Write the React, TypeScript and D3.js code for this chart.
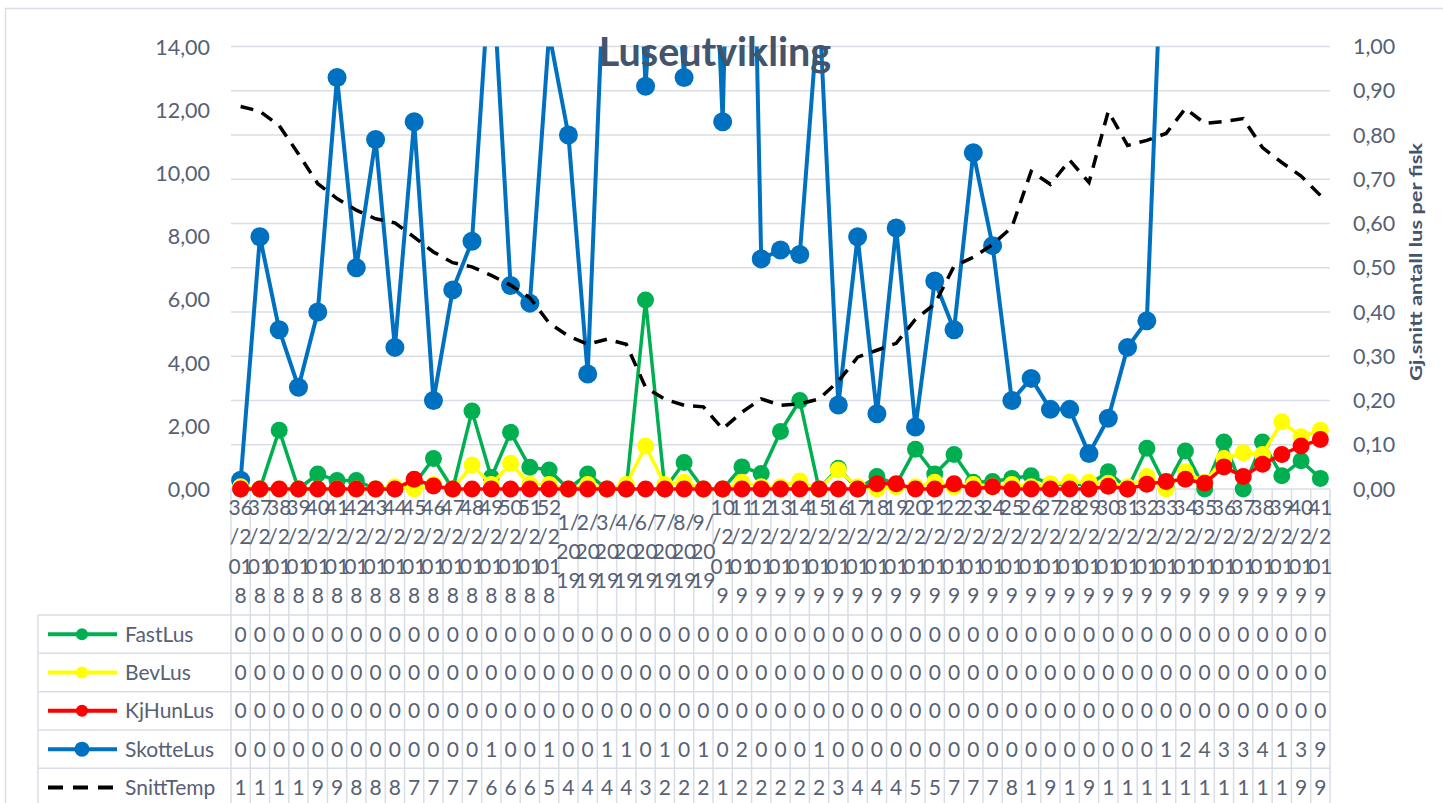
import React from 'react';
import * as d3 from 'd3';

const categories = [
  '36/2018', '37/2018', '38/2018', '39/2018', '40/2018', '41/2018', '42/2018', '43/2018', '44/2018',
  '45/2018', '46/2018', '47/2018', '48/2018', '49/2018', '50/2018', '51/2018', '52/2018',
  '1/2019', '2/2019', '3/2019', '4/2019', '6/2019', '7/2019', '8/2019', '9/2019',
  '10/2019', '11/2019', '12/2019', '13/2019', '14/2019', '15/2019', '16/2019', '17/2019', '18/2019',
  '19/2019', '20/2019', '21/2019', '22/2019', '23/2019', '24/2019', '25/2019', '26/2019', '27/2019',
  '28/2019', '29/2019', '30/2019', '31/2019', '32/2019', '33/2019', '34/2019', '35/2019', '36/2019',
  '37/2019', '38/2019', '39/2019', '40/2019', '41/2019',
];

const fastLus = [
  0, 0, 0.133, 0, 0.034, 0.019, 0.019, 0, 0, 0.01, 0.069, 0, 0.176, 0.026, 0.128, 0.049, 0.043,
  0, 0.034, 0, 0, 0.427, 0, 0.06, 0,
  0, 0.05, 0.035, 0.13, 0.2, 0, 0.047, 0, 0.028, 0.01, 0.09, 0.034, 0.078, 0.015, 0.017, 0.024,
  0.03, 0.01, 0.01, 0.01, 0.039, 0, 0.092, 0.005, 0.086, 0, 0.106, 0, 0.106, 0.03, 0.064, 0.024,
];

const bevLus = [
  0.005, 0, 0, 0, 0, 0, 0, 0, 0.005, 0, 0.01, 0, 0.054, 0.01, 0.058, 0.01, 0.01,
  0, 0.01, 0, 0.01, 0.097, 0.01, 0.015, 0,
  0, 0.015, 0.005, 0.005, 0.018, 0, 0.043, 0.005, 0, 0.005, 0.005, 0.015, 0.005, 0.01, 0.005, 0.01,
  0.005, 0.012, 0.015, 0.015, 0.013, 0.005, 0.028, 0, 0.039, 0.015, 0.069, 0.082, 0.078, 0.152, 0.118, 0.133,
];

const kjHunLus = [
  0, 0, 0, 0, 0, 0, 0, 0, 0, 0.022, 0.007, 0, 0, 0, 0, 0, 0,
  0, 0, 0, 0, 0, 0, 0, 0,
  0, 0, 0, 0, 0, 0, 0, 0, 0.012, 0.012, 0, 0, 0.012, 0, 0.005, 0,
  0, 0, 0, 0, 0.006, 0, 0.011, 0.017, 0.022, 0.013, 0.05, 0.028, 0.056, 0.078, 0.097, 0.112,
];

const skotteLus = [
  0.02, 0.57, 0.36, 0.23, 0.4, 0.93, 0.5, 0.79, 0.32, 0.83, 0.2, 0.45, 0.56, 1.22, 0.46, 0.42, 1.03,
  0.8, 0.26, 1.34, 1.9, 0.91, 1.6, 0.93, 1.9,
  0.83, 2.6, 0.52, 0.54, 0.53, 1.1, 0.19, 0.57, 0.17, 0.59, 0.14, 0.47, 0.36, 0.76, 0.55, 0.2,
  0.25, 0.18, 0.18, 0.08, 0.16, 0.32, 0.38, 1.48, 2.3, 4.1, 3.2, 3.5, 4.3, 1.8, 3.1, 9.4,
];

const snittTemp = [
  12.1, 11.95, 11.5, 10.6, 9.66, 9.19, 8.82, 8.55, 8.42, 7.97, 7.5, 7.16, 7.03, 6.76, 6.45, 6.05, 5.25,
  4.84, 4.58, 4.74, 4.58, 3.22, 2.84, 2.65, 2.6,
  1.9, 2.43, 2.85, 2.65, 2.69, 2.85, 3.41, 4.17, 4.39, 4.61, 5.37, 5.85, 7.05, 7.33, 7.74, 8.28,
  10.05, 9.64, 10.4, 9.7, 11.95, 10.87, 11.03, 11.25, 12.04, 11.57, 11.63, 11.72, 10.8, 10.33, 9.9, 9.29,
];

const leftTicks = [0, 2, 4, 6, 8, 10, 12, 14];
const rightTicks = [0, 0.1, 0.2, 0.3, 0.4, 0.5, 0.6, 0.7, 0.8, 0.9, 1.0];

const title = 'Luseutvikling';
const rightTitle = 'Gj.snitt antall lus per fisk';

const W = 1443;
const H = 803;
const plotLeft = 231;
const plotRight = 1330;
const plotTop = 46.5;
const plotBottom = 489;
const tableTop = 615;
const rowH = 38.33;
const tableLeft = 38;

const gridColor = '#d9dee6';
const textColor = '#576175';
const titleColor = '#44546a';
const font = 'Lato, "Open Sans", sans-serif';

const fmt = (v: number) => d3.format('.2f')(v).replace('.', ',');

export default function App() {
  const x = d3.scaleBand<string>().domain(categories).range([plotLeft, plotRight]).padding(0);
  const bw = x.bandwidth();
  const cx = (i: number) => (x(categories[i]) as number) + bw / 2;
  const yL = d3.scaleLinear().domain([0, 14]).range([plotBottom, plotTop]);
  const yR = d3.scaleLinear().domain([0, 1]).range([plotBottom, plotTop]);

  const lineR = d3.line<number>().x((_, i) => cx(i)).y((d) => yR(d));
  const lineL = d3.line<number>().x((_, i) => cx(i)).y((d) => yL(d));

  const series = [
    { name: 'FastLus', values: fastLus, color: '#00b050', width: 3.5, r: 8.5, lr: 6, dashed: false },
    { name: 'BevLus', values: bevLus, color: '#ffff00', width: 3.5, r: 8.5, lr: 6, dashed: false },
    { name: 'KjHunLus', values: kjHunLus, color: '#ff0000', width: 3.5, r: 8.5, lr: 6, dashed: false },
    { name: 'SkotteLus', values: skotteLus, color: '#0070c0', width: 4, r: 9.5, lr: 7.5, dashed: false },
    { name: 'SnittTemp', values: snittTemp, color: '#000000', width: 3.5, r: 0, lr: 0, dashed: true },
  ];
  const drawOrder = [3, 0, 1, 2];

  const chunk = (s: string) => {
    const out: string[] = [];
    for (let k = 0; k < s.length; k += 2) out.push(s.slice(k, k + 2));
    return out;
  };

  const bounds = d3.range(categories.length + 1).map((k) => plotLeft + k * bw);

  return (
    <svg width={W} height={H} style={{ position: 'absolute', left: 0, top: 0, background: '#fff' }}
      fontFamily={font}>
      <defs>
        <clipPath id="plotClip">
          <rect x={0} y={plotTop} width={W} height={H - plotTop} />
        </clipPath>
      </defs>
      <rect x={0} y={0} width={W} height={H} fill="#fff" />
      <rect x={5.5} y={8.5} width={W + 20} height={H + 20} fill="none" stroke={gridColor} strokeWidth={1.5} />

      {rightTicks.map((t) => (
        <line key={'g' + t} x1={plotLeft} x2={plotRight} y1={yR(t)} y2={yR(t)} stroke={gridColor} strokeWidth={1.5} />
      ))}

      {bounds.map((bx, k) => (
        <line key={'v' + k} x1={bx} x2={bx} y1={plotBottom} y2={H} stroke={gridColor} strokeWidth={1.5} />
      ))}
      <line x1={tableLeft} x2={tableLeft} y1={tableTop} y2={H} stroke={gridColor} strokeWidth={1.5} />
      {d3.range(5).map((k) => (
        <line key={'h' + k} x1={tableLeft} x2={plotRight} y1={tableTop + k * rowH} y2={tableTop + k * rowH}
          stroke={gridColor} strokeWidth={1.5} />
      ))}

      <g clipPath="url(#plotClip)">
        {drawOrder.map((si) => {
          const s = series[si];
          return (
            <g key={s.name}>
              <path d={lineR(s.values) as string} fill="none" stroke={s.color} strokeWidth={s.width}
                strokeLinejoin="round" />
              {s.values.map((v, i) => (
                <circle key={i} cx={cx(i)} cy={yR(v)} r={s.r} fill={s.color} />
              ))}
            </g>
          );
        })}
        <path d={lineL(snittTemp) as string} fill="none" stroke="#000" strokeWidth={3.5}
          strokeDasharray="13 9" />
      </g>

      <text x={715} y={66} textAnchor="middle" fontSize={39.5} fontWeight="bold" fill={titleColor}>{title}</text>

      {leftTicks.map((t) => (
        <text key={'l' + t} x={210} y={yL(t) + 8} textAnchor="end" fontSize={21.5} fill={textColor}>{fmt(t)}</text>
      ))}
      {rightTicks.map((t) => (
        <text key={'r' + t} x={1353} y={yR(t) + 7.5} textAnchor="start" fontSize={21.5} fill={textColor}>{fmt(t)}</text>
      ))}
      <text transform={`translate(1421.5,262) rotate(-90)`} textAnchor="middle" fontSize={17.5} fontWeight="bold"
        fill={titleColor} textLength={238} lengthAdjust="spacingAndGlyphs">{rightTitle}</text>

      {categories.map((c, i) => {
        const parts = chunk(c);
        const n = parts.length;
        return (
          <text key={'c' + i} textAnchor="middle" fontSize={21} fill={textColor}>
            {parts.map((p, k) => (
              <tspan key={k} x={cx(i)} y={559 + (k - (n - 1) / 2) * 29.3}>{p}</tspan>
            ))}
          </text>
        );
      })}

      {series.map((s, r) => {
        const yTop = tableTop + r * rowH;
        const yc = yTop + rowH / 2;
        return (
          <g key={'row' + s.name}>
            {s.dashed ? (
              <line x1={48} x2={117} y1={yc} y2={yc} stroke="#000" strokeWidth={4} strokeDasharray="15 10" />
            ) : (
              <g>
                <line x1={48} x2={117} y1={yc} y2={yc} stroke={s.color} strokeWidth={4} />
                <circle cx={82} cy={yc} r={s.lr} fill={s.color} />
              </g>
            )}
            <text x={125} y={yTop + 26.7} fontSize={21} fill={textColor}>{s.name}</text>
            {s.values.map((v, i) => (
              <text key={i} x={cx(i)} y={yTop + 26.7} textAnchor="middle" fontSize={21} fill={textColor}>
                {fmt(v)[0]}
              </text>
            ))}
          </g>
        );
      })}
    </svg>
  );
}
